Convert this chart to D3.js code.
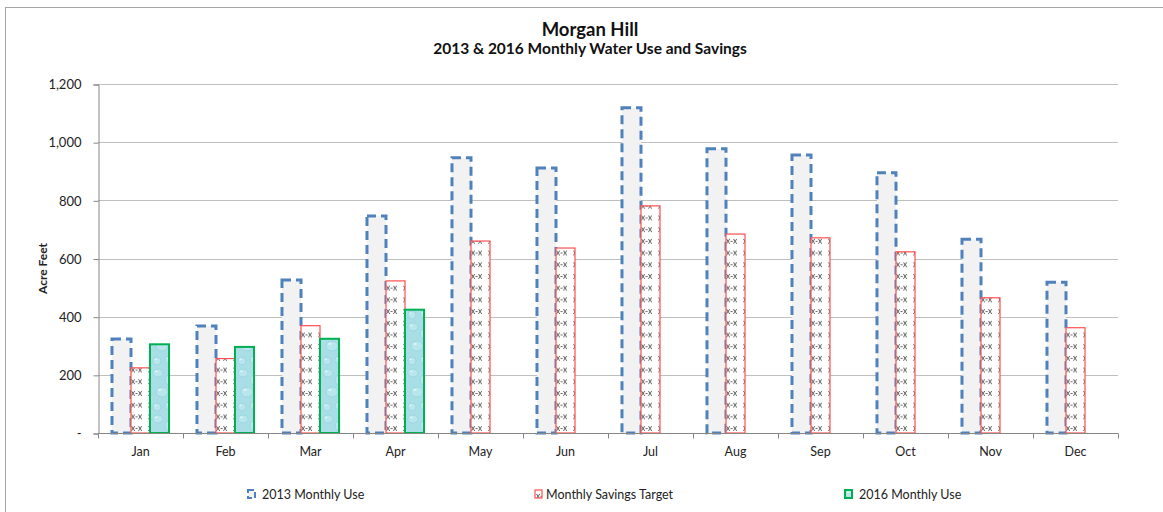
<!DOCTYPE html>
<html>
<head>
<meta charset="utf-8">
<script src="https://cdn.jsdelivr.net/npm/d3@7"></script>
<style>
  body { margin: 0; background: #fff; }
  svg { font-family: Lato, "Open Sans", sans-serif; }
</style>
</head>
<body>
<svg id="chart" width="1163" height="512"></svg>
<script>
var months = ["Jan", "Feb", "Mar", "Apr", "May", "Jun", "Jul", "Aug", "Sep", "Oct", "Nov", "Dec"];
var use2013 = [323, 368, 526, 746, 946, 911, 1118, 977, 956, 895, 666, 518];
var savingsTarget = [224, 256, 369, 523, 660, 636, 781, 684, 671, 623, 465, 362];
var use2016 = [305, 296, 324, 424, null, null, null, null, null, null, null, null];
var yTicks = [0, 200, 400, 600, 800, 1000, 1200];
var seriesNames = ["2013 Monthly Use", "Monthly Savings Target", "2016 Monthly Use"];

var svg = d3.select("#chart");
var plotLeft = 98, plotRight = 1118, plotTop = 84, plotBottom = 433;

// outer frame
svg.append("rect")
    .attr("x", 5.5).attr("y", 7.5)
    .attr("width", 1170).attr("height", 520)
    .attr("fill", "none").attr("stroke", "#a6a6a6");

var defs = svg.append("defs");

// x-x pattern for savings target
var px = defs.append("pattern")
    .attr("id", "xx")
    .attr("patternUnits", "userSpaceOnUse")
    .attr("width", 17).attr("height", 11.7)
    .attr("x", 2).attr("y", 2);
px.append("rect").attr("width", 17).attr("height", 12).attr("fill", "#fff");
px.append("text")
    .attr("x", 0).attr("y", 8)
    .attr("font-size", 8.5)
    .attr("fill", "#333")
    .text("x-x");

// water drop texture for 2016
var pw = defs.append("pattern")
    .attr("id", "water")
    .attr("patternUnits", "userSpaceOnUse")
    .attr("width", 40).attr("height", 46);
pw.append("rect").attr("width", 40).attr("height", 46).attr("fill", "#a9dee6");
var drops = [[6, 5, 5, 4], [20, 12, 7, 6], [33, 4, 4, 3], [10, 24, 6, 5], [29, 28, 8, 7], [5, 39, 4, 4], [18, 38, 5, 4], [36, 42, 3, 3]];
drops.forEach(function (d) {
    pw.append("ellipse")
        .attr("cx", d[0]).attr("cy", d[1]).attr("rx", d[2]).attr("ry", d[3])
        .attr("fill", "#b8e6ec").attr("stroke", "#8ccfdb").attr("stroke-width", 0.6);
    pw.append("ellipse")
        .attr("cx", d[0] - d[2] * 0.35).attr("cy", d[1] - d[3] * 0.4)
        .attr("rx", d[2] * 0.3).attr("ry", d[3] * 0.2)
        .attr("fill", "#dcf5f8");
});

var x = d3.scaleBand().domain(months).range([plotLeft, plotRight]).paddingInner(0.329).paddingOuter(0.1645);
var xs = d3.scaleBand().domain([0, 1, 2]).range([0, x.bandwidth()]);
var y = d3.scaleLinear().domain([0, 1200]).range([plotBottom, plotTop]);

// gridlines
svg.append("g").selectAll("line")
    .data(yTicks.slice(1))
    .enter().append("line")
    .attr("x1", plotLeft).attr("x2", plotRight)
    .attr("y1", function (d) { return Math.round(y(d)) + 0.5; })
    .attr("y2", function (d) { return Math.round(y(d)) + 0.5; })
    .attr("stroke", "#bfbfbf");

// y axis
var yAxis = svg.append("g")
    .attr("transform", "translate(" + (plotLeft + 0.5) + ",0.5)")
    .call(d3.axisLeft(y).tickValues(yTicks).tickSize(5).tickPadding(12)
        .tickFormat(function (d) { return d === 0 ? "-" : d3.format(",")(d); }));
yAxis.select(".domain").attr("stroke", "#868686");
yAxis.selectAll(".tick line").attr("stroke", "#868686");
yAxis.selectAll("text").attr("font-size", 13).attr("fill", "#222").attr("font-family", "Lato, sans-serif");

svg.append("text")
    .attr("transform", "translate(47," + ((plotTop + plotBottom) / 2 + 10) + ") rotate(-90)")
    .attr("text-anchor", "middle")
    .attr("font-size", 12).attr("font-weight", "bold").attr("fill", "#222")
    .text("Acre Feet");

// bars
var groups = svg.append("g").selectAll("g")
    .data(months)
    .enter().append("g")
    .attr("transform", function (d) { return "translate(" + x(d) + ",0)"; });

groups.append("rect")
    .attr("x", xs(0)).attr("width", xs.bandwidth())
    .attr("y", function (d, i) { return y(use2013[i]); })
    .attr("height", function (d, i) { return y(0) - y(use2013[i]); })
    .attr("fill", "#f2f2f2")
    .attr("stroke", "#4f81bd").attr("stroke-width", 3)
    .attr("stroke-dasharray", "9,5");

groups.append("rect")
    .attr("x", xs(1)).attr("width", xs.bandwidth())
    .attr("y", function (d, i) { return y(savingsTarget[i]); })
    .attr("height", function (d, i) { return y(0) - y(savingsTarget[i]); })
    .attr("fill", "url(#xx)")
    .attr("stroke", "#ff5050").attr("stroke-width", 1.2);

groups.filter(function (d, i) { return use2016[i] != null; })
    .append("rect")
    .attr("x", xs(2)).attr("width", xs.bandwidth())
    .attr("y", function (d) { return y(use2016[months.indexOf(d)]); })
    .attr("height", function (d) { return y(0) - y(use2016[months.indexOf(d)]); })
    .attr("fill", "url(#water)")
    .attr("stroke", "#00b050").attr("stroke-width", 2);

// x axis
var xAxisG = svg.append("g").attr("transform", "translate(0," + (plotBottom + 0.5) + ")");
xAxisG.append("line").attr("x1", plotLeft).attr("x2", plotRight).attr("stroke", "#868686");
xAxisG.selectAll(".tk")
    .data(d3.range(months.length + 1))
    .enter().append("line")
    .attr("x1", function (i) { return Math.round(plotLeft + i * x.step()) + 0.5; })
    .attr("x2", function (i) { return Math.round(plotLeft + i * x.step()) + 0.5; })
    .attr("y1", 0).attr("y2", 5)
    .attr("stroke", "#868686");
xAxisG.selectAll(".lbl")
    .data(months)
    .enter().append("text")
    .attr("x", function (d) { return x(d) + x.bandwidth() / 2; })
    .attr("y", 22.5)
    .attr("text-anchor", "middle")
    .attr("font-size", 12.5).attr("fill", "#222")
    .text(function (d) { return d; });

// titles
svg.append("text")
    .attr("x", 590).attr("y", 36)
    .attr("text-anchor", "middle")
    .attr("font-size", 18.5).attr("font-weight", "bold").attr("fill", "#111")
    .text("Morgan Hill");
svg.append("text")
    .attr("x", 590).attr("y", 54)
    .attr("text-anchor", "middle")
    .attr("font-size", 15.5).attr("font-weight", "bold").attr("fill", "#111")
    .text("2013 & 2016 Monthly Water Use and Savings");

// legend
var legendX = [247, 534, 844];
var legendTextX = [15, 12, 15];
var legend = svg.append("g").selectAll("g")
    .data(seriesNames)
    .enter().append("g")
    .attr("transform", function (d, i) { return "translate(" + legendX[i] + ",489)"; });
legend.append("rect")
    .attr("x", 1).attr("y", 1).attr("width", 7).attr("height", 8)
    .attr("fill", function (d, i) { return ["#f2f2f2", "url(#xx)", "url(#water)"][i]; })
    .attr("stroke", function (d, i) { return ["#4f81bd", "#ff5050", "#00b050"][i]; })
    .attr("stroke-width", function (d, i) { return [2, 1.2, 2][i]; })
    .attr("stroke-dasharray", function (d, i) { return i === 0 ? "6,3" : null; });
legend.append("text")
    .attr("x", function (d, i) { return legendTextX[i]; })
    .attr("y", 10)
    .attr("font-size", 12.5).attr("fill", "#222")
    .text(function (d) { return d; });
</script>
</body>
</html>
